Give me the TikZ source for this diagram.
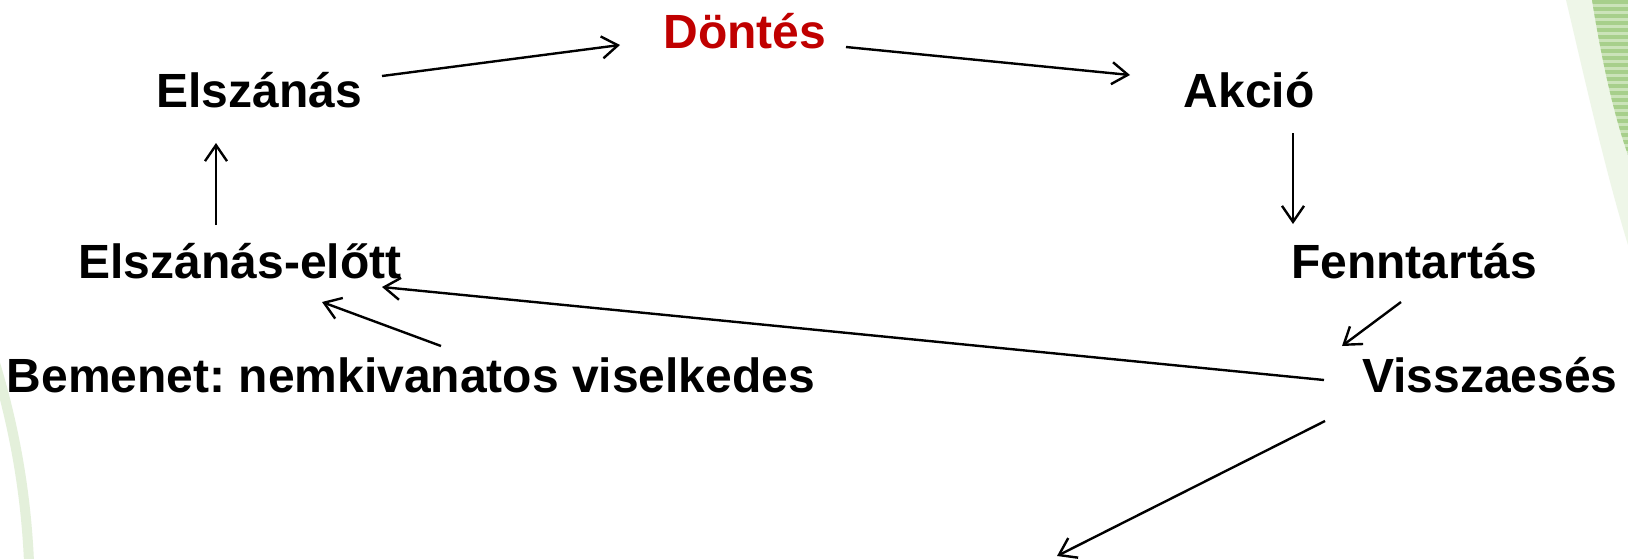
\documentclass[tikz,border=0pt]{standalone}
\usepackage{fontspec}
\setmainfont{Liberation Sans}
\usetikzlibrary{arrows.meta}
\frenchspacing

\definecolor{stripeA}{HTML}{A7CF8B}
\definecolor{stripeB}{HTML}{CBE3B9}
\definecolor{paleband}{HTML}{EEF6E8}
\definecolor{arcband}{HTML}{E4F0DB}
\definecolor{decisionred}{HTML}{C00000}

\tikzset{
  stage/.style={anchor=base, inner sep=0pt, font=\fontsize{48}{56}\selectfont\bfseries},
  flow/.style={line width=2.4pt, -{Straight Barb[length=16pt,width=22pt,line width=2.4pt]}},
}

\begin{document}
\begin{tikzpicture}[x=1pt,y=1pt]
  \useasboundingbox (0,0) rectangle (1628,-558);
  \fill[white] (0,0) rectangle (1628,-558);

  % slide decoration, top right: pale strip and striped green band
  \fill[paleband] (1566,0) .. controls (1585,-80) and (1605,-170) .. (1628,-245) -- (1628,0) -- cycle;
  \begin{scope}
    \clip (1592,0) .. controls (1600,-50) and (1612,-110) .. (1628,-155) -- (1628,0) -- cycle;
    \fill[stripeB] (1580,0) rectangle (1628,-160);
    \foreach \k in {0,...,23} {
      \fill[stripeA] (1580,-\k*7) rectangle (1628,-\k*7-3.5);
    }
  \end{scope}

  % slide decoration, bottom left: pale green arc
  \draw[arcband, line width=10pt] (-6,-360) .. controls (14,-425) and (26,-492) .. (29,-562);

  % stages
  \node[stage, text=decisionred] (dont) at (745,-48) {Döntés};
  \node[stage] (elsz)  at (259,-107) {Elszánás};
  \node[stage] (akc)   at (1249,-107) {Akció};
  \node[stage] (elott) at (240,-278) {Elszánás-előtt};
  \node[stage] (fenn)  at (1414,-278) {Fenntartás};
  \node[stage] (bem)   at (411,-392) {Bemenet: nemkivanatos viselkedes};
  \node[stage] (vissz) at (1490,-392) {Visszaesés};
  \coordinate (exit) at (1057,-556);

  % transitions
  \draw[flow] ([shift={(123,31)}]elsz.base) -- ([shift={(-125,3)}]dont.base);
  \draw[flow] ([shift={(101,1)}]dont.base) -- ([shift={(-119,32)}]akc.base);
  \draw[flow] ([shift={(44,-26)}]akc.base) -- ([shift={(-121,54)}]fenn.base);
  \draw[flow] ([shift={(-13,-24)}]fenn.base) -- ([shift={(-148,46)}]vissz.base);
  \draw[flow] ([shift={(-166,12)}]vissz.base) -- ([shift={(142,-9)}]elott.base);
  \draw[flow] ([shift={(30,46)}]bem.base) -- ([shift={(82,-24)}]elott.base);
  \draw[flow] ([shift={(-24,53)}]elott.base) -- ([shift={(-43,-36)}]elsz.base);
  \draw[flow] ([shift={(-165,-29)}]vissz.base) -- (exit);
\end{tikzpicture}
\end{document}
